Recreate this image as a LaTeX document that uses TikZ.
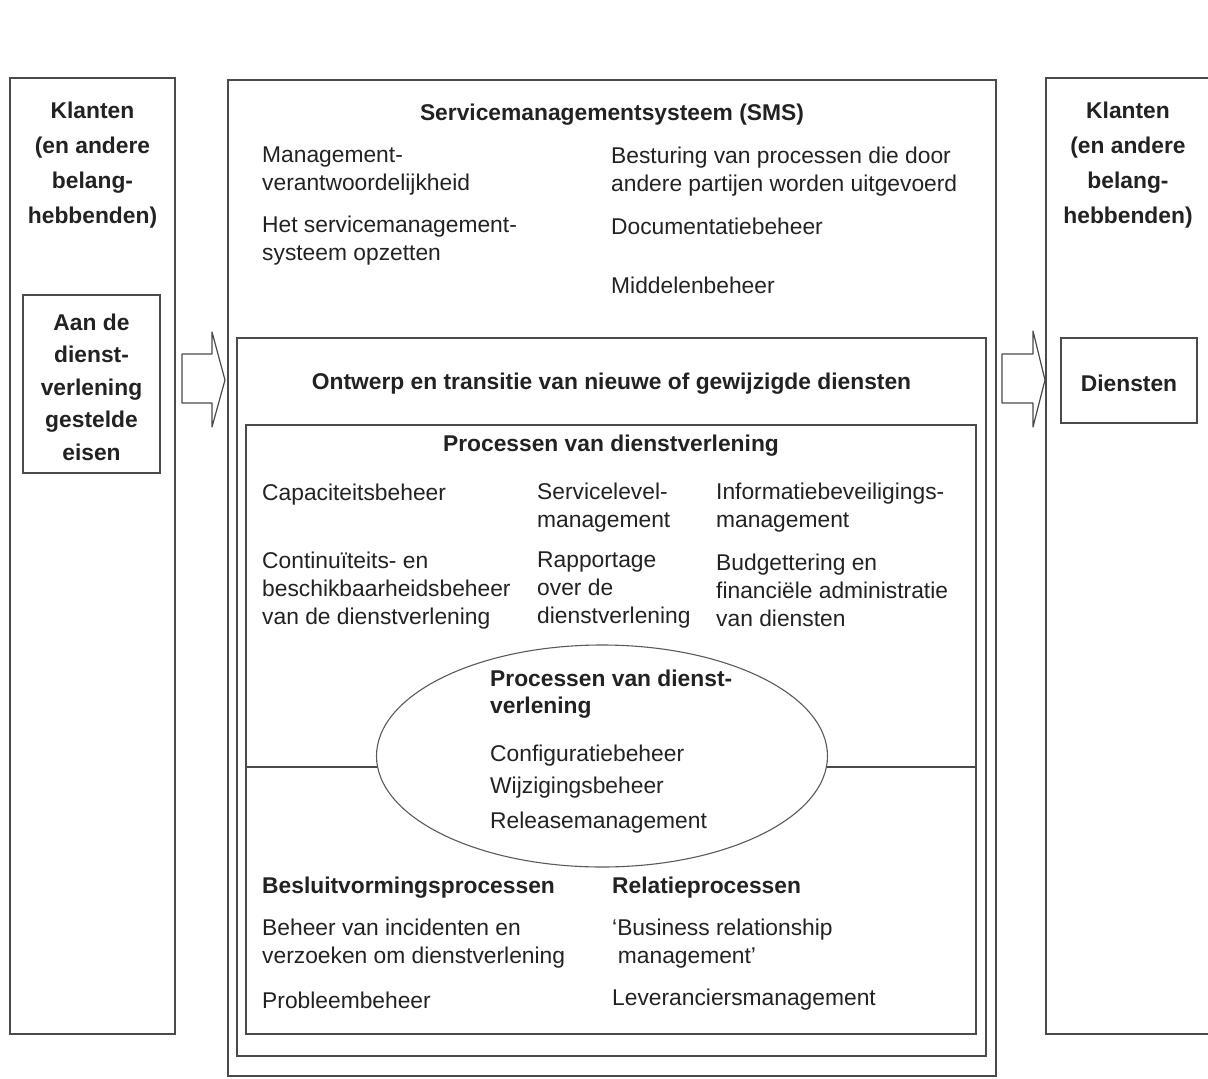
\documentclass[tikz,border=0pt]{standalone}
\usepackage{fontspec}
\setmainfont{Liberation Sans}
\usetikzlibrary{shapes.geometric}
\definecolor{textc}{HTML}{222222}
\definecolor{linec}{HTML}{4A4A4A}
\definecolor{ellc}{HTML}{5A5A5A}
\tikzset{
  frame/.style={draw=linec, line width=1.3pt, inner sep=0pt, fill=none},
  txt/.style={font=\fontsize{22.8}{28}\selectfont, text=textc, inner sep=0pt, align=left, anchor=west, yshift=-3pt},
  btxt/.style={txt, font=\fontsize{22.8}{28}\selectfont\bfseries},
  ctxt/.style={btxt, align=center, anchor=center},
  blockarrow/.style={draw=linec, line width=1.2pt, fill=white, line join=round},
  ellst/.style={ellipse, draw=ellc, line width=1.1pt, fill=white, inner sep=0pt}
}
\begin{document}
\begin{tikzpicture}[x=1pt,y=-1pt]
\useasboundingbox (0,0) rectangle (1208,1079);
% boxes
\node[frame, minimum width=165pt, minimum height=956pt] (klantL) at (92.5,556) {};
\node[frame, minimum width=137pt, minimum height=178pt] (aanL) at (91.5,384) {};
\node[frame, minimum width=768pt, minimum height=996pt] (sms) at (612,578) {};
\node[frame, minimum width=749pt, minimum height=718pt] (ontw) at (611.5,697) {};
\node[frame, minimum width=730pt, minimum height=609pt] (proc) at (611,729.5) {};
\node[frame, minimum width=166pt, minimum height=956pt] (klantR) at (1129,556) {};
\node[frame, minimum width=136pt, minimum height=85pt] (dienst) at (1129,380.5) {};
% block arrows
\draw[blockarrow] (182,354) -- (212,354) -- (212,332) -- (225,380) -- (212,427) -- (212,403) -- (182,403) -- cycle;
\draw[blockarrow] (1002,354) -- (1033,354) -- (1033,331) -- (1045,380) -- (1033,427) -- (1033,403) -- (1002,403) -- cycle;
% dividing line and ellipse
\coordinate (hlL) at (proc.west |- 0,767);
\coordinate (hlR) at (proc.east |- 0,767);
\draw[draw=linec, line width=1.2pt] (hlL) -- (hlR);
\node[ellst, minimum width=451pt, minimum height=222pt] (ell) at (602,756) {};
% left column
\node[ctxt, font=\fontsize{22.8}{35}\selectfont\bfseries] (klL) at (92.5,162.5) {Klanten\\(en andere\\belang-\\hebbenden)};
\node[ctxt, font=\fontsize{22.8}{32.5}\selectfont\bfseries] (aanT) at (aanL.center) {Aan de\\dienst-\\verlening\\gestelde\\eisen};
% right column
\node[ctxt, font=\fontsize{22.8}{35}\selectfont\bfseries] (klR) at (1128,162.5) {Klanten\\(en andere\\belang-\\hebbenden)};
\node[ctxt] (dienT) at (dienst.center) {Diensten};
% SMS
\node[ctxt] (smsT) at (612,112) {Servicemanagementsysteem (SMS)};
\node[txt] (mv) at (262,168.5) {Management-\\verantwoordelijkheid};
\node[txt] (hs) at (262,237.5) {Het servicemanagement-\\systeem opzetten};
\node[txt] (bp) at (611,169) {Besturing van processen die door\\andere partijen worden uitgevoerd};
\node[txt] (db) at (611,223) {Documentatiebeheer};
\node[txt] (mb) at (611,282) {Middelenbeheer};
% Ontwerp
\node[ctxt] (ontT) at (611.5,381) {Ontwerp en transitie van nieuwe of gewijzigde diensten};
\node[ctxt] (procT) at (611,443) {Processen van dienstverlening};
\node[txt] (cap) at (262,492) {Capaciteitsbeheer};
\node[txt] (slm) at (537,505) {Servicelevel-\\management};
\node[txt] (ibm) at (716,505) {Informatiebeveiligings-\\management};
\node[txt] (cont) at (262,587.5) {Continuïteits- en\\beschikbaarheidsbeheer\\van de dienstverlening};
\node[txt] (rap) at (537,587.5) {Rapportage\\over de\\dienstverlening};
\node[txt] (bud) at (716,587.5) {Budgettering en\\financiële administratie\\van diensten};
% ellipse text
\node[btxt, font=\fontsize{22.8}{27}\selectfont\bfseries] (elT) at (490,691.5) {Processen van dienst-\\verlening};
\node[txt] (cfg) at (490,753) {Configuratiebeheer};
\node[txt] (wz) at (490,785) {Wijzigingsbeheer};
\node[txt] (rel) at (490,820) {Releasemanagement};
% bottom
\node[btxt] (besT) at (262,885) {Besluitvormingsprocessen};
\node[btxt] (relT) at (612,885) {Relatieprocessen};
\node[txt] (inc) at (262,941) {Beheer van incidenten en\\verzoeken om dienstverlening};
\node[txt] (prb) at (262,997) {Probleembeheer};
\node[txt] (brm) at (612,941) {‘Business relationship\\\hspace*{0.25em}management’};
\node[txt] (lev) at (612,997) {Leveranciersmanagement};
\end{tikzpicture}
\end{document}
